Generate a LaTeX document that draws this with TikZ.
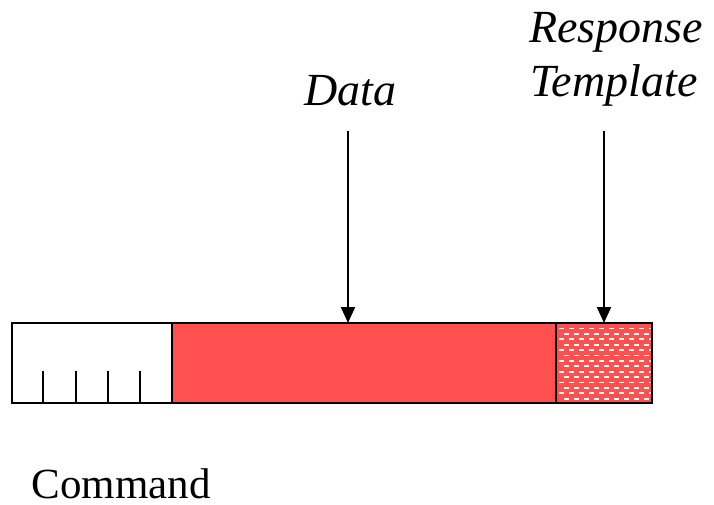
\documentclass[tikz,border=0pt]{standalone}
\usepackage{fontspec}
\setmainfont{Liberation Serif}
\usetikzlibrary{arrows.meta}
\definecolor{boxred}{HTML}{FF5050}
\begin{document}
\begin{tikzpicture}[x=1pt,y=-1pt,
  field/.style={draw=black,line width=2pt,inner sep=0pt,outer sep=0pt,anchor=north west},
  lbl/.style={font=\fontsize{46}{54}\selectfont\itshape,inner sep=0pt,anchor=base},
  ptr/.style={line width=2pt,-{Triangle[width=14pt,length=16pt]}}]
\useasboundingbox (0,0) rectangle (714,505);
% fields
\node[field,minimum width=160pt,minimum height=80pt] (cmd) at (12,323) {};
\node[field,fill=boxred,minimum width=384pt,minimum height=80pt] (data) at (172,323) {};
\node[field,fill=boxred,minimum width=96pt,minimum height=80pt] (tmpl) at (556,323) {};
% dash pattern in template field
\begin{scope}
\clip (558,325) rectangle (651,402);
\foreach \r in {0,...,14}{
  \pgfmathsetmacro{\yy}{327.5+\r*5.4}
  \pgfmathsetmacro{\off}{mod(\r,2)*5}
  \foreach \c in {0,...,10}{
    \fill[white] ({559+\off+\c*10},\yy) rectangle ++(5,1.8);
  }
}
\end{scope}
\draw[line width=2pt] (tmpl.north west) rectangle (tmpl.south east);
% ticks
\foreach \x [count=\i] in {43,76,108,140}{
  \coordinate (tk\i) at (\x,371);
  \draw[line width=2pt] (tk\i) -- (\x,403);
}
% labels
\node[lbl] (dlbl) at (350,106) {Data};
\node[lbl] (rlbl1) at (616,43) {Response};
\node[lbl] (rlbl2) at (614,97) {Template};
\node[font=\fontsize{43}{50}\selectfont,inner sep=0pt,anchor=base] (clbl) at (121,498) {Command};
% arrows
\coordinate (dstart) at (348,131);
\coordinate (tstart) at (604,131);
\draw[ptr] (dstart) -- (dstart |- data.north);
\draw[ptr] (tstart) -- (tstart |- tmpl.north);
\end{tikzpicture}
\end{document}
